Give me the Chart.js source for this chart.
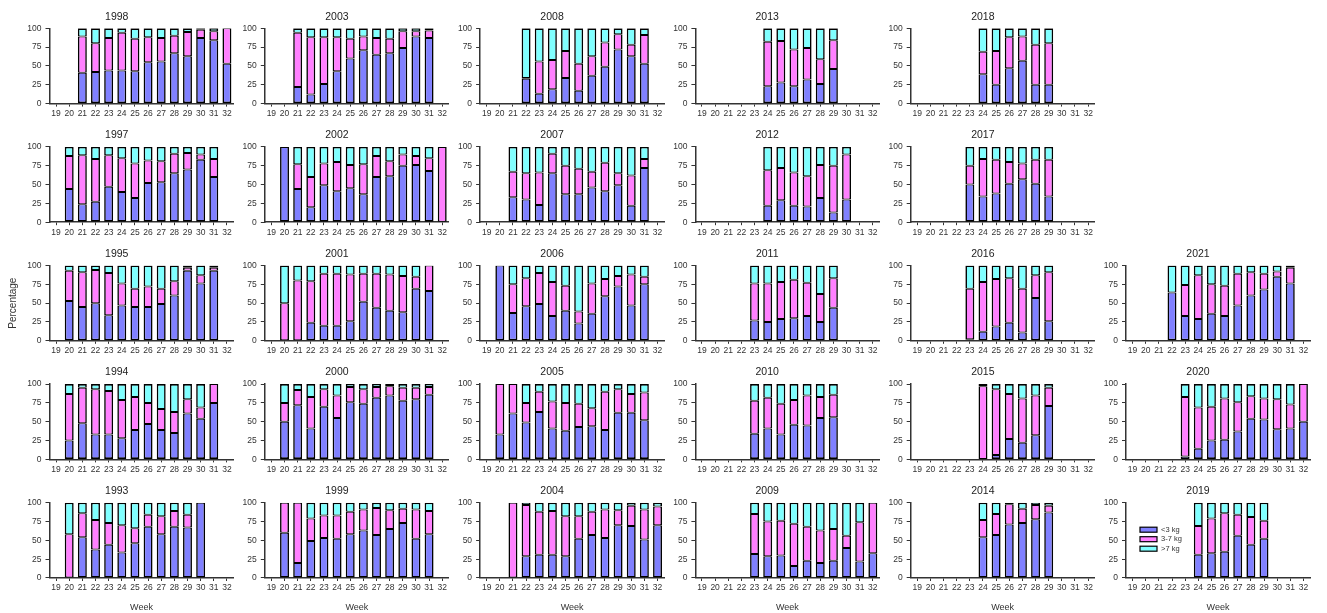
<!DOCTYPE html>
<html>
<head>
<meta charset="utf-8">
<title>Weekly weight classes 1993-2021</title>
<script src="https://cdn.jsdelivr.net/npm/chart.js@4.4.1/dist/chart.umd.min.js"></script>
<style>
  html, body { margin: 0; padding: 0; background: #fff; }
  #panels { position: relative; width: 1327px; height: 613px; overflow: hidden; }
  .panel { position: absolute; }
</style>
</head>
<body>
<div id="panels"></div>
<script>
// ------- Data -------
const WEEKS = ['19', '20', '21', '22', '23', '24', '25', '26', '27', '28', '29', '30', '31', '32'];
const SERIES_LABELS = ['<3 kg', '3-7 kg', '>7 kg'];
const SERIES_COLORS = ['#8080ff', '#ff80ff', '#80ffff'];

const YEARS = [1993, 1994, 1995, 1997, 1998, 1999, 2000, 2001, 2002, 2003, 2004, 2005, 2006, 2007,
               2008, 2009, 2010, 2011, 2012, 2013, 2014, 2015, 2016, 2017, 2018, 2019, 2020, 2021];
const FIRST_WEEK = [20, 20, 20, 20, 21, 20, 20, 20, 20, 21, 21, 20, 20, 21,
                    22, 23, 23, 23, 24, 24, 24, 24, 23, 23, 24, 24, 23, 22];

// percentage of fish < 3 kg, one row per year, starting at FIRST_WEEK
const UNDER_3 = [
  [0, 54, 38, 44, 34, 46, 68, 58, 68, 67, 100],
  [25, 48, 33, 33, 28, 39, 47, 39, 35, 61, 54, 75],
  [53, 45, 50, 34, 47, 45, 45, 49, 60, 93, 76, 93],
  [44, 24, 27, 47, 40, 32, 52, 53, 65, 70, 83, 60],
  [41, 42, 44, 44, 43, 55, 56, 67, 63, 87, 84, 53],
  [60, 20, 49, 53, 52, 58, 63, 57, 65, 73, 52, 58],
  [50, 72, 41, 70, 55, 76, 74, 82, 85, 78, 80, 86],
  [0, 0, 24, 20, 20, 26, 52, 44, 40, 38, 69, 66],
  [100, 44, 20, 49, 41, 45, 37, 60, 61, 75, 76, 68, 0],
  [22, 12, 26, 43, 60, 71, 65, 67, 74, 89, 87],
  [0, 29, 31, 31, 29, 52, 57, 53, 70, 69, 51, 70],
  [33, 61, 49, 63, 41, 38, 43, 44, 39, 62, 62, 52],
  [100, 37, 46, 49, 33, 40, 23, 36, 59, 72, 47, 75],
  [33, 30, 23, 65, 37, 37, 46, 41, 49, 22, 72],
  [33, 13, 19, 34, 17, 37, 49, 72, 63, 53],
  [32, 29, 30, 16, 23, 20, 23, 40, 22, 33],
  [34, 41, 33, 46, 45, 55, 56],
  [27, 25, 29, 30, 33, 25, 44],
  [22, 29, 22, 21, 32, 13, 30],
  [23, 28, 23, 32, 26, 46],
  [54, 57, 71, 73, 78, 87],
  [0, 6, 27, 22, 32, 71],
  [2, 12, 19, 24, 11, 57, 26],
  [50, 34, 38, 51, 57, 51, 34],
  [39, 25, 47, 57, 25, 25],
  [31, 33, 35, 56, 44, 52],
  [4, 14, 25, 26, 37, 54, 53, 40, 41, 50],
  [64, 33, 29, 36, 33, 47, 60, 68, 85, 76]
];

// 3-7 kg
const FROM_3_TO_7 = [
  [58, 32, 39, 29, 36, 20, 16, 24, 21, 17, 0],
  [62, 47, 60, 58, 51, 44, 28, 28, 28, 19, 15, 25],
  [40, 46, 44, 56, 29, 24, 27, 20, 19, 4, 11, 4],
  [44, 65, 57, 42, 45, 46, 30, 28, 26, 22, 7, 24],
  [48, 38, 43, 50, 43, 33, 31, 23, 32, 11, 12, 47],
  [40, 80, 30, 30, 31, 30, 28, 36, 25, 19, 39, 31],
  [25, 20, 42, 23, 30, 20, 19, 14, 12, 17, 15, 10],
  [50, 80, 55, 69, 69, 62, 37, 45, 48, 48, 16, 34],
  [0, 33, 40, 29, 39, 31, 40, 28, 20, 15, 12, 17, 100],
  [72, 76, 62, 45, 26, 18, 22, 19, 22, 7, 10],
  [100, 68, 57, 58, 53, 30, 31, 38, 20, 27, 40, 25],
  [67, 39, 26, 27, 36, 37, 31, 24, 51, 31, 25, 37],
  [0, 38, 37, 41, 45, 33, 16, 40, 23, 14, 41, 10],
  [34, 35, 43, 26, 38, 34, 21, 38, 16, 40, 12],
  [1, 43, 39, 36, 36, 26, 32, 20, 15, 38],
  [53, 46, 46, 56, 45, 43, 42, 16, 52, 67],
  [44, 41, 41, 33, 40, 28, 30],
  [49, 51, 49, 51, 44, 37, 39],
  [47, 43, 44, 40, 44, 62, 60],
  [59, 55, 49, 42, 33, 38],
  [23, 28, 27, 19, 19, 9],
  [97, 87, 60, 59, 53, 24],
  [67, 66, 63, 59, 58, 30, 65],
  [25, 50, 45, 29, 21, 32, 49],
  [30, 45, 41, 32, 53, 55],
  [38, 46, 51, 28, 37, 24],
  [79, 55, 45, 55, 39, 30, 28, 40, 32, 50],
  [0, 41, 58, 39, 40, 42, 31, 21, 7, 21]
];

// > 7 kg
const OVER_7 = [
  [42, 14, 23, 27, 30, 34, 16, 18, 11, 16, 0],
  [13, 5, 7, 9, 21, 17, 25, 33, 37, 20, 31, 0],
  [7, 9, 6, 10, 24, 31, 28, 31, 21, 3, 13, 3],
  [12, 11, 16, 11, 15, 22, 18, 19, 9, 8, 10, 16],
  [11, 20, 13, 6, 14, 12, 13, 10, 5, 2, 4, 0],
  [0, 0, 21, 17, 17, 12, 9, 7, 10, 8, 9, 11],
  [25, 8, 17, 7, 15, 4, 7, 4, 3, 5, 5, 4],
  [50, 20, 21, 11, 11, 12, 11, 11, 12, 14, 15, 0],
  [0, 23, 40, 22, 20, 24, 23, 12, 19, 10, 12, 15, 0],
  [6, 12, 12, 12, 14, 11, 13, 14, 4, 4, 3],
  [0, 3, 12, 11, 18, 18, 12, 9, 10, 4, 9, 5],
  [0, 0, 25, 10, 23, 25, 26, 32, 10, 7, 13, 11],
  [0, 25, 17, 10, 22, 27, 61, 24, 18, 14, 12, 15],
  [33, 35, 34, 9, 25, 29, 33, 21, 35, 38, 16],
  [66, 44, 42, 30, 47, 37, 19, 8, 22, 9],
  [15, 25, 24, 28, 32, 37, 35, 44, 26, 0],
  [22, 18, 26, 21, 15, 17, 14],
  [24, 24, 22, 19, 23, 38, 17],
  [31, 28, 34, 39, 24, 25, 10],
  [18, 17, 28, 26, 41, 16],
  [23, 15, 2, 8, 3, 4],
  [3, 7, 13, 19, 15, 5],
  [31, 22, 18, 17, 31, 13, 9],
  [25, 16, 17, 20, 22, 17, 17],
  [31, 30, 12, 11, 22, 20],
  [31, 21, 14, 16, 19, 24],
  [17, 31, 30, 19, 24, 16, 19, 20, 27, 0],
  [36, 26, 13, 25, 27, 11, 9, 11, 8, 3]
];

// ------- Layout -------
const GRID = [
  [1998, 2003, 2008, 2013, 2018, null],
  [1997, 2002, 2007, 2012, 2017, null],
  [1995, 2001, 2006, 2011, 2016, 2021],
  [1994, 2000, 2005, 2010, 2015, 2020],
  [1993, 1999, 2004, 2009, 2014, 2019]
];
const LEGEND_YEAR = 2019;
const PLOT_W = 184;
const PLOT_H = 75.3;
const FONT = "'Liberation Sans', Arial, sans-serif";
const AXIS_COLOR = '#333';

// outer edges a bit heavier; inner edges meet so they add up
const SEGMENT_BORDERS = [
  { left: 1.6, right: 1.6, top: 1, bottom: 1.6 },
  { left: 1.6, right: 1.6, top: 1, bottom: 1 },
  { left: 1.6, right: 1.6, top: 1.6, bottom: 1 }
];

Chart.defaults.font.family = FONT;
Chart.defaults.color = '#222';

// spread a year's values over the full week axis
function toWeekSeries(values, firstWeek) {
  const out = WEEKS.map(() => null);
  const offset = firstWeek - Number(WEEKS[0]);
  values.forEach((v, i) => { out[offset + i] = v; });
  return out;
}

// small legend drawn inside the plot area (as in the 2019 panel)
const insideLegend = {
  id: 'insideLegend',
  afterDatasetsDraw(chart) {
    const { ctx, chartArea } = chart;
    ctx.save();
    ctx.font = '7.5px ' + FONT;
    ctx.textBaseline = 'middle';
    ctx.textAlign = 'left';
    chart.data.datasets.forEach((ds, i) => {
      const x = chartArea.left + 14;
      const y = chartArea.top + 24.5 + i * 9.5;
      ctx.fillStyle = ds.backgroundColor;
      ctx.fillRect(x, y, 17, 5);
      ctx.strokeStyle = '#000';
      ctx.lineWidth = 1.2;
      ctx.strokeRect(x, y, 17, 5);
      ctx.fillStyle = '#333';
      ctx.fillText(ds.label, x + 21, y + 2.5);
    });
    ctx.restore();
  }
};

function placePanel(year, row, col) {
  const idx = YEARS.indexOf(year);
  const chartLeft = 49.5 + col * 215.3;
  const chartTop = 28.3 + row * 118.6;
  const canvasLeft = col === 0 ? 0 : Math.round(chartLeft - 40);
  const canvasTop = Math.round(chartTop - 22);
  const yAxisW = chartLeft - canvasLeft;
  const titleH = chartTop - canvasTop;
  const isBottom = row === GRID.length - 1;
  const canvasH = Math.ceil(titleH + PLOT_H + (isBottom ? 40 : 22));
  const xAxisH = canvasH - titleH - PLOT_H;
  const canvasW = Math.ceil(yAxisW + PLOT_W + 4);

  const canvas = document.createElement('canvas');
  canvas.className = 'panel';
  canvas.width = canvasW;
  canvas.height = canvasH;
  canvas.style.left = canvasLeft + 'px';
  canvas.style.top = canvasTop + 'px';
  canvas.style.width = canvasW + 'px';
  canvas.style.height = canvasH + 'px';
  document.getElementById('panels').appendChild(canvas);

  const seriesValues = [UNDER_3[idx], FROM_3_TO_7[idx], OVER_7[idx]];
  const datasets = seriesValues.map((vals, s) => ({
    label: SERIES_LABELS[s],
    data: toWeekSeries(vals, FIRST_WEEK[idx]),
    backgroundColor: SERIES_COLORS[s],
    borderColor: '#000',
    borderWidth: SEGMENT_BORDERS[s],
    borderSkipped: false,
    barPercentage: 0.68,
    categoryPercentage: 1,
    stack: 'weeks'
  }));

  new Chart(canvas, {
    type: 'bar',
    data: { labels: WEEKS, datasets },
    options: {
      responsive: false,
      animation: false,
      devicePixelRatio: 1,
      layout: { padding: { left: 0, top: 0, bottom: 0, right: canvasW - yAxisW - PLOT_W } },
      plugins: {
        legend: { display: false },
        tooltip: { enabled: false },
        title: {
          display: true,
          text: String(year),
          font: { size: 10.5, weight: 'normal' },
          color: '#222',
          padding: { top: titleH - 12.6 - 5.3, bottom: 5.3 }
        }
      },
      scales: {
        x: {
          stacked: true,
          afterFit: scale => { scale.height = xAxisH; },
          border: { color: AXIS_COLOR, width: 1.5 },
          grid: { offset: false, drawOnChartArea: false, tickLength: 3, color: AXIS_COLOR },
          ticks: { autoSkip: false, maxRotation: 0, minRotation: 0, padding: 2, font: { size: 8.5 }, color: '#333' },
          title: {
            display: isBottom,
            text: 'Week',
            font: { size: 9 },
            color: '#333',
            padding: { top: 0, bottom: xAxisH - 30 - 5.4 }
          }
        },
        y: {
          stacked: true,
          min: 0,
          max: 100,
          afterFit: scale => { scale.width = yAxisW; },
          border: { color: AXIS_COLOR, width: 1.5 },
          grid: { drawOnChartArea: false, tickLength: 4, color: AXIS_COLOR },
          ticks: { stepSize: 25, padding: 4, font: { size: 8.5 }, color: '#333' },
          title: {
            display: row === 2 && col === 0,
            text: 'Percentage',
            font: { size: 10 },
            color: '#333',
            padding: { top: 7, bottom: 0 }
          }
        }
      }
    },
    plugins: year === LEGEND_YEAR ? [insideLegend] : []
  });
}

// ------- Render -------
GRID.forEach((rowYears, r) => {
  rowYears.forEach((year, c) => {
    if (year !== null) placePanel(year, r, c);
  });
});
</script>
</body>
</html>
